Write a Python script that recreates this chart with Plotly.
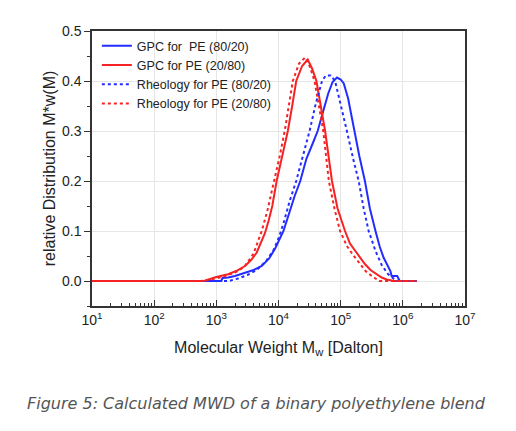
import numpy as np
import plotly.graph_objects as go

# log10 of molecular weight and relative distribution
gpc_8020_logM = [1.0, 3.08, 3.10, 3.19, 3.30, 3.46, 3.60, 3.73, 3.85, 3.95, 4.00, 4.08, 4.17, 4.26,
                 4.35, 4.45, 4.55, 4.63, 4.72, 4.80, 4.87, 4.94, 5.00, 5.05, 5.12, 5.22, 5.30, 5.39,
                 5.47, 5.56, 5.63, 5.69, 5.76, 5.80, 5.82, 5.91, 5.95, 6.22]
gpc_8020_w = [0.0, 0.0, 0.006, 0.007, 0.010, 0.017, 0.022, 0.030, 0.045, 0.066, 0.080, 0.100, 0.135, 0.170,
              0.200, 0.245, 0.275, 0.300, 0.340, 0.375, 0.398, 0.407, 0.403, 0.395, 0.365, 0.300, 0.250, 0.200,
              0.145, 0.100, 0.068, 0.047, 0.030, 0.020, 0.010, 0.010, 0.0, 0.0]

gpc_2080_logM = [1.0, 2.80, 2.90, 3.00, 3.19, 3.32, 3.46, 3.56, 3.65, 3.73, 3.78, 3.84, 3.90, 3.97,
                 4.06, 4.15, 4.22, 4.285, 4.38, 4.47, 4.54, 4.61, 4.68, 4.75, 4.86, 4.95, 5.07, 5.15,
                 5.23, 5.31, 5.39, 5.48, 5.58, 5.66, 5.74, 5.86, 6.22]
gpc_2080_w = [0.0, 0.0, 0.004, 0.008, 0.0135, 0.020, 0.030, 0.042, 0.057, 0.080, 0.095, 0.120, 0.150, 0.200,
              0.250, 0.300, 0.350, 0.400, 0.430, 0.443, 0.425, 0.400, 0.350, 0.300, 0.200, 0.145, 0.100, 0.075,
              0.061, 0.047, 0.034, 0.022, 0.0135, 0.007, 0.003, 0.0, 0.0]

rheo_8020_logM = [1.0, 3.20, 3.35, 3.50, 3.65, 3.80, 3.92, 4.00, 4.08, 4.18, 4.285, 4.40, 4.50, 4.60,
                  4.70, 4.76, 4.84, 4.91, 5.00, 5.10, 5.20, 5.29, 5.37, 5.45, 5.56, 5.66, 5.76, 5.86,
                  5.92, 6.22]
rheo_8020_w = [0.0, 0.0, 0.005, 0.012, 0.022, 0.040, 0.062, 0.085, 0.115, 0.160, 0.200, 0.255, 0.300, 0.355,
               0.400, 0.411, 0.411, 0.400, 0.355, 0.300, 0.245, 0.200, 0.145, 0.100, 0.060, 0.032, 0.014, 0.004,
               0.0, 0.0]

rheo_2080_logM = [1.0, 2.75, 2.90, 3.10, 3.30, 3.45, 3.60, 3.73, 3.82, 3.93, 4.02, 4.10, 4.17, 4.23,
                  4.33, 4.43, 4.50, 4.58, 4.65, 4.72, 4.81, 4.90, 4.99, 5.10, 5.20, 5.30, 5.40, 5.50,
                  5.58, 5.62, 6.22]
rheo_2080_w = [0.0, 0.0, 0.003, 0.008, 0.017, 0.028, 0.055, 0.100, 0.140, 0.200, 0.250, 0.300, 0.350, 0.400,
               0.435, 0.447, 0.430, 0.400, 0.350, 0.300, 0.200, 0.145, 0.100, 0.070, 0.052, 0.035, 0.020, 0.010,
               0.003, 0.0, 0.0]

x_tickvals = [1e1, 1e2, 1e3, 1e4, 1e5, 1e6, 1e7]
x_ticktext = ["10<sup>1</sup>", "10<sup>2</sup>", "10<sup>3</sup>", "10<sup>4</sup>",
              "10<sup>5</sup>", "10<sup>6</sup>", "10<sup>7</sup>"]

blue = "rgb(35,45,255)"
red = "rgb(245,35,35)"

fig = go.Figure()

# GPC curves (solid)
fig.add_trace(go.Scatter(x=10 ** np.array(gpc_8020_logM), y=gpc_8020_w, mode="lines",
                         name="GPC for\u00a0 PE (80/20)", line=dict(color=blue, width=2)))
fig.add_trace(go.Scatter(x=10 ** np.array(gpc_2080_logM), y=gpc_2080_w, mode="lines",
                         name="GPC for PE (20/80)", line=dict(color=red, width=2)))
# Rheology curves (dotted)
fig.add_trace(go.Scatter(x=10 ** np.array(rheo_8020_logM), y=rheo_8020_w, mode="lines",
                         name="Rheology for PE (80/20)", line=dict(color=blue, width=2, dash="dot")))
fig.add_trace(go.Scatter(x=10 ** np.array(rheo_2080_logM), y=rheo_2080_w, mode="lines",
                         name="Rheology for PE (20/80)", line=dict(color=red, width=2, dash="dot")))

axis_font = dict(family="Liberation Sans, Arial, sans-serif", size=14, color="#222")

# page body has an 8px default margin, so the margins are trimmed by 8
fig.update_layout(
    width=516, height=431,
    margin=dict(l=84, r=59, t=23, b=133, autoexpand=False),
    paper_bgcolor="white", plot_bgcolor="white",
    font=axis_font,
    showlegend=True,
    legend=dict(x=0.013, y=1.0, xanchor="left", yanchor="top",
                bgcolor="rgba(0,0,0,0)", font=dict(size=12.5, color="#222"),
                itemwidth=30, tracegroupgap=0),
    xaxis=dict(type="log", range=[1, 7], tickvals=x_tickvals, ticktext=x_ticktext,
               automargin=False,
               showgrid=True, gridcolor="#e6e6e6", zeroline=False,
               showline=True, linecolor="#333", linewidth=1.5, mirror=True,
               ticks="inside", ticklen=6, tickcolor="#333",
               minor=dict(ticks="inside", ticklen=3, tickcolor="#333", dtick="D1", showgrid=False),
               title=dict(text="Molecular Weight M<sub>w</sub> [Dalton]", font=dict(size=16), standoff=15)),
    yaxis=dict(range=[-0.05, 0.5], dtick=0.1, tickformat=".1f", automargin=False,
               showgrid=True, gridcolor="#e6e6e6", zeroline=False,
               showline=True, linecolor="#333", linewidth=1.5, mirror=True,
               ticks="outside", ticklen=6, tickcolor="#333",
               minor=dict(ticks="outside", ticklen=3, tickcolor="#333", dtick=0.05, showgrid=False),
               title=dict(text="relative Distribution M*w(M)", font=dict(size=16), standoff=2)),
)

fig.add_annotation(text="<i>Figure 5: Calculated MWD of a binary polyethylene blend</i>",
                   xref="paper", yref="paper", x=0.44, y=-0.353, xanchor="center", yanchor="middle",
                   showarrow=False,
                   font=dict(family="DejaVu Sans, sans-serif", size=16, color="#555"))

fig.write_html("out.html")
